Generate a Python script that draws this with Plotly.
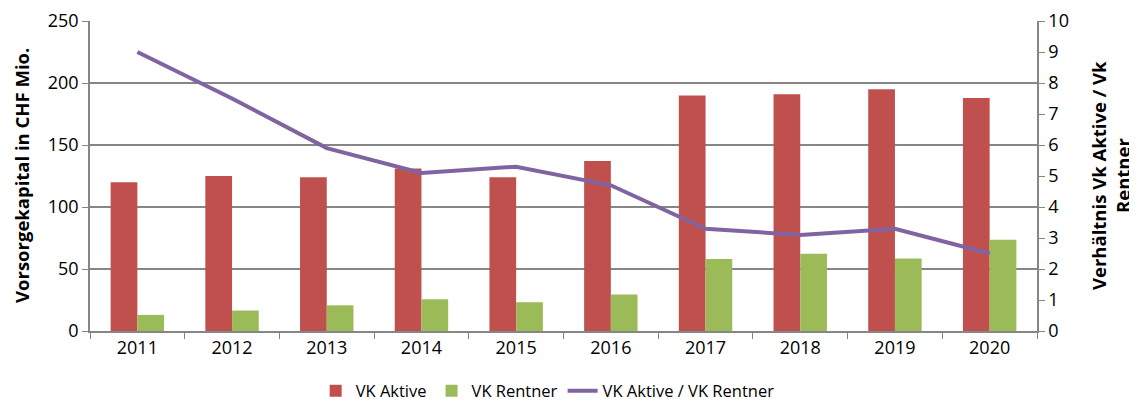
import plotly.graph_objects as go

years = ["2011", "2012", "2013", "2014", "2015", "2016", "2017", "2018", "2019", "2020"]
vk_aktive = [120, 125, 124, 131, 124, 137, 190, 191, 195, 188]
vk_rentner = [13, 16.5, 20.7, 25.6, 23.2, 29.4, 58, 62.2, 58.4, 73.5]
ratio = [9.0, 7.5, 5.9, 5.1, 5.3, 4.7, 3.3, 3.1, 3.3, 2.5]

FONT = "Open Sans"
GRID = "#868686"
TS = 18

fig = go.Figure()
fig.add_trace(go.Bar(x=years, y=vk_aktive, name="VK Aktive", marker=dict(color="#C0504D", line=dict(width=0))))
fig.add_trace(go.Bar(x=years, y=vk_rentner, name="VK Rentner", marker=dict(color="#9BBB59", line=dict(width=0))))
fig.add_trace(go.Scatter(x=years, y=ratio, name="VK Aktive / VK Rentner", yaxis="y2", mode="lines",
                         line=dict(color="#8064A2", width=4)))

# page body has an 8px default margin -> figure is 8px smaller and margins compensated
fig.update_layout(
    width=1129, height=399,
    margin=dict(l=82, r=100, t=13, b=76, autoexpand=False),
    paper_bgcolor="white", plot_bgcolor="white",
    font=dict(family=FONT, size=TS, color="#000000"),
    barmode="group", bargap=0.436, bargroupgap=0,
    showlegend=True,
    legend=dict(orientation="h", xref="container", yref="container", x=0.478, xanchor="center",
                y=0.04, yanchor="middle", font=dict(size=16.5), itemwidth=30, traceorder="normal"),
    xaxis=dict(type="category", tickson="boundaries", ticks="outside", ticklen=6, tickcolor=GRID,
               showline=True, linecolor=GRID, linewidth=1.5, showgrid=False, tickfont=dict(size=TS),
               automargin=False),
    yaxis=dict(range=[0, 250], dtick=50, showgrid=True, gridcolor=GRID, gridwidth=1.5,
               ticks="outside", ticklen=6, tickcolor=GRID, showline=True, linecolor=GRID, linewidth=1.5,
               zeroline=False, tickfont=dict(size=TS), automargin=False),
    yaxis2=dict(range=[0, 10], dtick=1, overlaying="y", side="right", showgrid=False,
                ticks="outside", ticklen=6, tickcolor=GRID, showline=True, linecolor=GRID, linewidth=1.5,
                zeroline=False, tickfont=dict(size=TS), automargin=False),
    annotations=[
        dict(text="<b>Vorsorgekapital in CHF Mio.</b>", xref="paper", yref="paper", x=0, y=0.5,
             xshift=-69, textangle=-90, showarrow=False, xanchor="center", yanchor="middle",
             font=dict(size=18.5)),
        dict(text="<b>Verhältnis Vk Aktive / Vk</b>", xref="paper", yref="paper", x=1, y=0.5,
             xshift=61, textangle=-90, showarrow=False, xanchor="center", yanchor="middle",
             font=dict(size=18.5)),
        dict(text="<b>Rentner</b>", xref="paper", yref="paper", x=1, y=0.5,
             xshift=85, textangle=-90, showarrow=False, xanchor="center", yanchor="middle",
             font=dict(size=18.5)),
    ],
)

fig.write_html("out.html")
